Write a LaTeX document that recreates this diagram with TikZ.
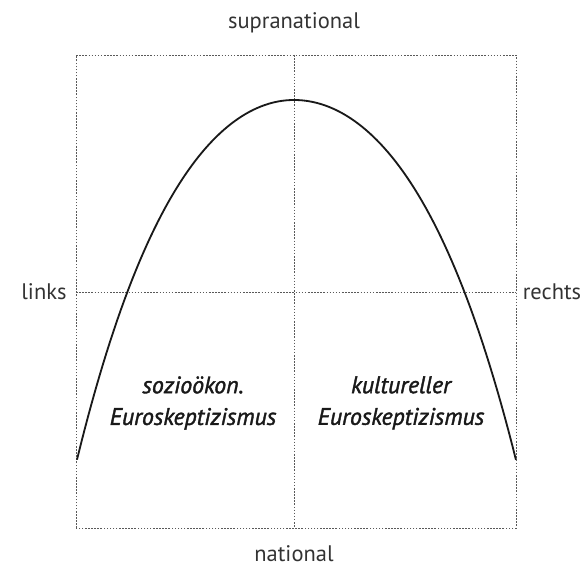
\documentclass[tikz,border=0pt]{standalone}
\usepackage{fontspec}
\setmainfont{PT Sans}
\newfontfamily\fieldfont[FakeBold=1.6]{PT Sans}
\usetikzlibrary{positioning}

\begin{document}
\begin{tikzpicture}[
        grid/.style={draw=black!65, line width=0.6pt, dash pattern=on 1.1pt off 1.1pt},
        axislabel/.style={font=\fontsize{16}{19}\selectfont, text=black!80},
        field/.style={align=center, font=\fieldfont\fontsize{17}{22.5}\selectfont\itshape, text=black!90},
        curve/.style={line width=1.3pt, black!90}
    ]
        \useasboundingbox (0,0) rectangle (14.625,14.3);

        % frame and axes
        \coordinate (sw) at (1.9,1.1);
        \coordinate (ne) at (12.9,12.925);
        \coordinate (top) at (7.35,12.925);
        \coordinate (bottom) at (7.35,1.1);
        \coordinate (left) at (1.9,7.0);
        \coordinate (right) at (12.9,7.0);
        \draw[grid] (sw) rectangle (ne);
        \draw[grid] (top) -- (bottom);
        \draw[grid] (left) -- (right);

        % axis labels
        \node[axislabel] (supra) at (7.35,13.72) {supranational};
        \node[axislabel] (nat) at (7.35,0.47) {national};
        \node[axislabel] (links) at (1.1,7.0) {links};
        \node[axislabel] (rechts) at (13.8,7.0) {rechts};

        % the curve
        \draw[curve] plot[domain=-5.425:0, samples=60]
                ({7.35+\x}, {11.8-0.235*\x*\x-0.0024*(\x*\x)*(\x*\x)})
            -- plot[domain=0:5.55, samples=60]
                ({7.35+\x}, {11.8-0.2245*\x*\x-0.0022*(\x*\x)*(\x*\x)});

        % the two fields
        \node[field] (sozio) at (4.825,4.225) {sozioökon.\\Euroskeptizismus};
        \node[field] (kultur) at (10.025,4.225) {kultureller\\Euroskeptizismus};
    \end{tikzpicture}
\end{document}
